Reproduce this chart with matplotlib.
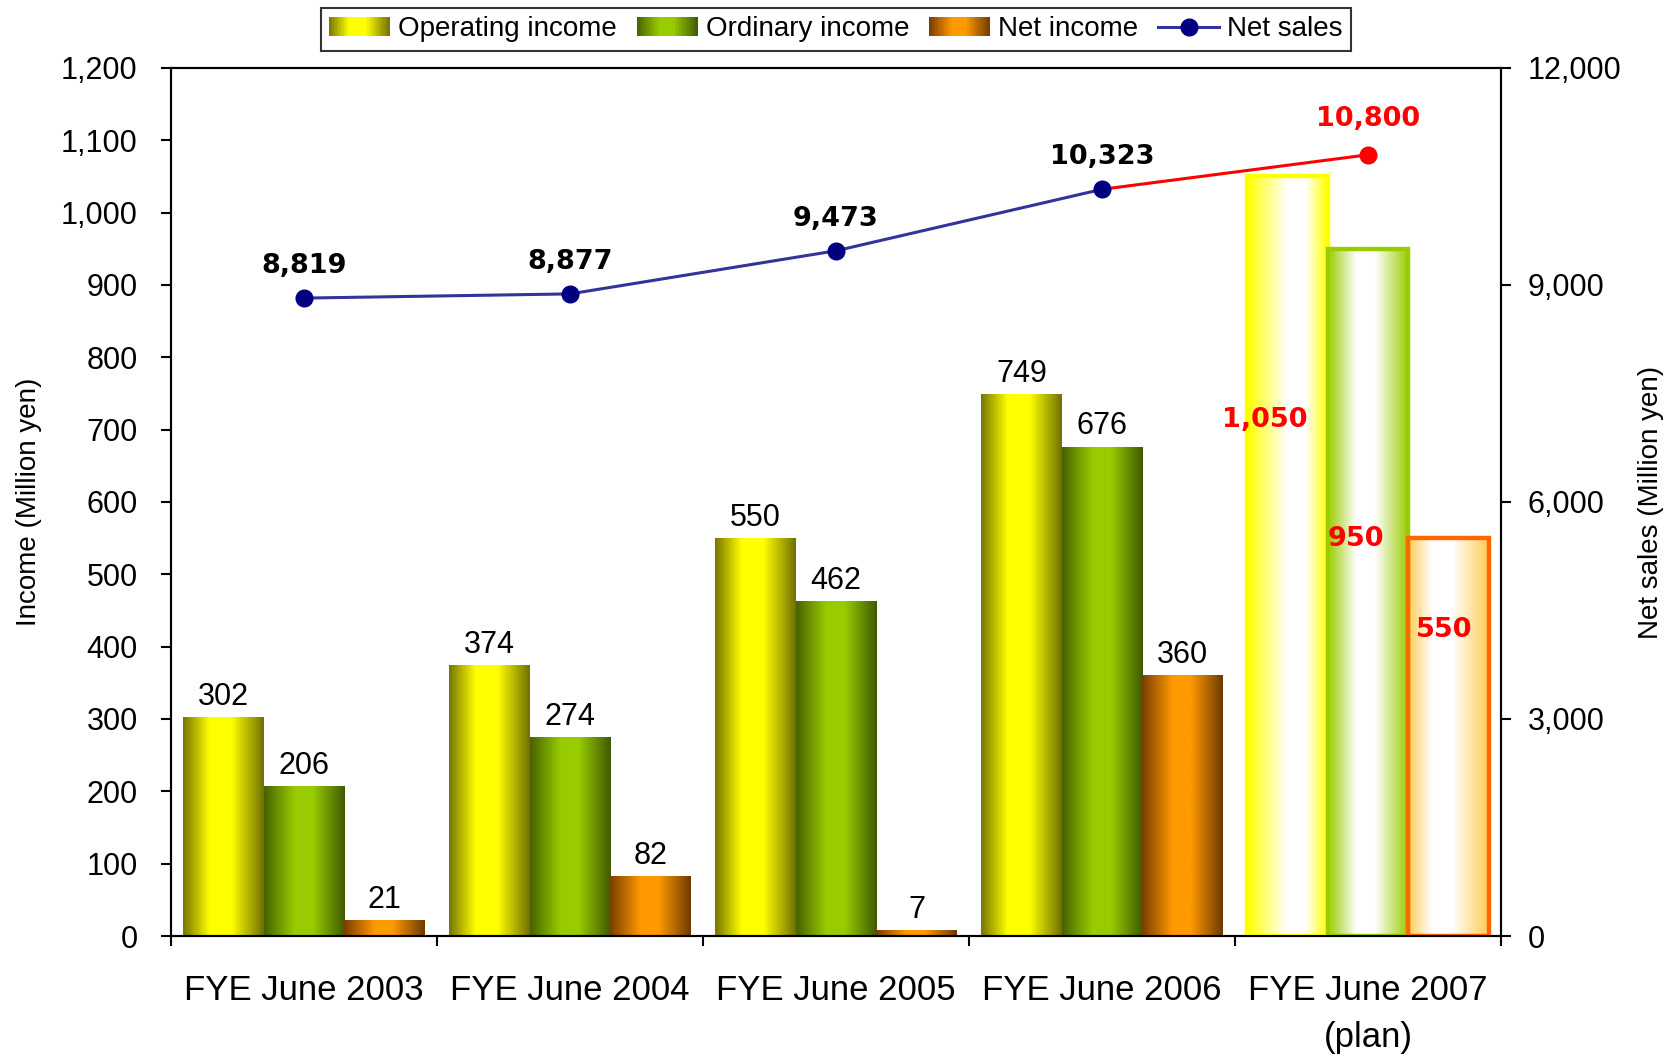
import numpy as np
import matplotlib
matplotlib.use("Agg")
import matplotlib.pyplot as plt
from matplotlib.colors import LinearSegmentedColormap
from matplotlib.legend_handler import HandlerBase
from matplotlib.patches import Rectangle
from matplotlib.lines import Line2D
from matplotlib.ticker import StrMethodFormatter

plt.rcParams["font.family"] = ["Liberation Sans", "DejaVu Sans"]

# data
categories = ["FYE June 2003", "FYE June 2004", "FYE June 2005", "FYE June 2006", "FYE June 2007\n(plan)"]
operating_income = [302, 374, 550, 749, 1050]
ordinary_income = [206, 274, 462, 676, 950]
net_income = [21, 82, 7, 360, 550]
net_sales = [8819, 8877, 9473, 10323, 10800]
is_plan = [False, False, False, False, True]
series_names = ["Operating income", "Ordinary income", "Net income", "Net sales"]

# gradients (actual / plan)
op_cmap = LinearSegmentedColormap.from_list("op", [(0, "#767600"), (0.33, "#ffff00"), (0.6, "#ffff00"), (1, "#707000")])
ord_cmap = LinearSegmentedColormap.from_list("ord", [(0, "#466200"), (0.38, "#99cc00"), (0.6, "#99cc00"), (1, "#3f5a00")])
net_cmap = LinearSegmentedColormap.from_list("net", [(0, "#7a3d00"), (0.38, "#ff9900"), (0.6, "#ff9900"), (1, "#6e3a00")])
op_plan = LinearSegmentedColormap.from_list("opp", [(0, "#ffff00"), (0.5, "#ffffff"), (0.72, "#ffffff"), (1, "#ffff00")])
ord_plan = LinearSegmentedColormap.from_list("ordp", [(0, "#99cc00"), (0.35, "#ffffff"), (0.58, "#ffffff"), (1, "#99cc00")])
net_plan = LinearSegmentedColormap.from_list("netp", [(0, "#ffcc55"), (0.3, "#ffffff"), (0.55, "#ffffff"), (1, "#ffcc55")])
plan_edges = ["#ffff00", "#99cc00", "#ff6600"]
# where the red plan labels sit (x shift in category units, y as fraction of value)
plan_label_pos = [(-0.085, 0.68), (-0.045, 0.578), (-0.015, 0.77)]

grad = np.linspace(0, 1, 256).reshape(1, -1)
bold_font = dict(family="DejaVu Sans", fontweight="bold", fontsize=19.5)


class GradientHandler(HandlerBase):
    def __init__(self, cmap, n=40):
        super().__init__()
        self.cmap = cmap
        self.n = n

    def create_artists(self, legend, orig_handle, xdescent, ydescent, width, height, fontsize, trans):
        arts = []
        for k in range(self.n):
            arts.append(Rectangle((-xdescent + width * k / self.n, -ydescent), width / self.n * 1.1, height,
                                  facecolor=self.cmap((k + 0.5) / self.n), edgecolor="none", transform=trans))
        return arts


fig = plt.figure(figsize=(16.72, 10.56), dpi=100)
ax = fig.add_axes([171 / 1672, 1 - 936 / 1056, 1330 / 1672, 868 / 1056])

x = np.arange(len(categories))
w = 0.303
containers = []
for off, vals, cm, cm_plan in [(-w, operating_income, op_cmap, op_plan),
                               (0, ordinary_income, ord_cmap, ord_plan),
                               (w, net_income, net_cmap, net_plan)]:
    bc = ax.bar(x + off, vals, w, facecolor="none", edgecolor="none", zorder=3)
    for bar, plan in zip(bc, is_plan):
        x0, y0 = bar.get_xy()
        ax.imshow(grad, cmap=cm_plan if plan else cm, aspect="auto", interpolation="bilinear",
                  extent=[x0, x0 + bar.get_width(), y0, y0 + bar.get_height()], zorder=2)
    containers.append(bc)

for bc, col in zip(containers, plan_edges):
    for bar, plan in zip(bc, is_plan):
        if plan:
            bar.set_edgecolor(col)
            bar.set_linewidth(3.2)

for bc in containers:
    labels = ["" if p else f"{v:,.0f}" for v, p in zip(bc.datavalues, is_plan)]
    ax.bar_label(bc, labels=labels, padding=4, fontsize=22)

for bc, (dx, fy) in zip(containers, plan_label_pos):
    for bar, v, p in zip(bc, bc.datavalues, is_plan):
        if p:
            ax.text(bar.get_x() + bar.get_width() / 2 + dx, v * fy, f"{v:,.0f}", color="red",
                    ha="center", va="center", zorder=5, **bold_font)

ax.set_xlim(-0.5, len(categories) - 0.5)
ax.set_ylim(0, 1200)
ax.set_yticks(np.arange(0, 1201, 100))
ax.yaxis.set_major_formatter(StrMethodFormatter("{x:,.0f}"))
ax.set_xticks(np.arange(-0.5, len(categories), 1))
ax.set_xticklabels([])
ax.set_xticks(x, minor=True)
ax.set_xticklabels(categories, minor=True)
for t in ax.get_xticklabels(minor=True):
    t.set_linespacing(1.55)
ax.tick_params(axis="x", which="major", length=7, width=1.5, direction="out")
ax.tick_params(axis="x", which="minor", length=0, pad=27, labelsize=25)
ax.tick_params(axis="y", length=7, width=1.5, pad=17, labelsize=22)
for s in ax.spines.values():
    s.set_linewidth(1.5)
ax.set_ylabel("Income (Million yen)", fontsize=20)
ax.yaxis.set_label_coords(-0.097, 0.5)

ax2 = ax.twinx()
ax2.plot(x[3:], net_sales[3:], color="red", lw=2.2, zorder=2)
sales_line, = ax2.plot(x[:4], net_sales[:4], color="#333399", lw=2.2, marker="o", ms=12,
                       mfc="#000080", mec="#000080", zorder=3)
ax2.plot(x[4:], net_sales[4:], ls="none", marker="o", ms=12, mfc="red", mec="red", zorder=3)
for xi, v, p in zip(x, net_sales, is_plan):
    ax2.annotate(f"{v:,.0f}", (xi, v), xytext=(0, 21 if p else 18), textcoords="offset points",
                 ha="center", va="baseline", color="red" if p else "black", **bold_font)
ax2.set_ylim(0, 12000)
ax2.set_yticks(np.arange(0, 12001, 3000))
ax2.yaxis.set_major_formatter(StrMethodFormatter("{x:,.0f}"))
ax2.tick_params(axis="y", length=7, width=1.5, pad=12, labelsize=22)
for s in ax2.spines.values():
    s.set_linewidth(1.5)
ax2.set_ylabel("Net sales (Million yen)", fontsize=20)
ax2.yaxis.set_label_coords(1.103, 0.5)

legend_line = Line2D([], [], color="#333399", lw=2.2, marker="o", ms=12, mfc="#000080", mec="#000080")
leg = fig.legend(handles=containers + [legend_line], labels=series_names,
                 handler_map={containers[0]: GradientHandler(op_cmap),
                              containers[1]: GradientHandler(ord_cmap),
                              containers[2]: GradientHandler(net_cmap)},
                 loc="upper center", bbox_to_anchor=(836 / 1672, 1 - 8 / 1056), ncol=4,
                 fontsize=20, frameon=True, fancybox=False, edgecolor="black",
                 handlelength=2.2, handletextpad=0.3, columnspacing=0.7, borderpad=0.3,
                 borderaxespad=0)
leg.get_frame().set_linewidth(1.5)

fig.savefig("out.png", dpi=100)
